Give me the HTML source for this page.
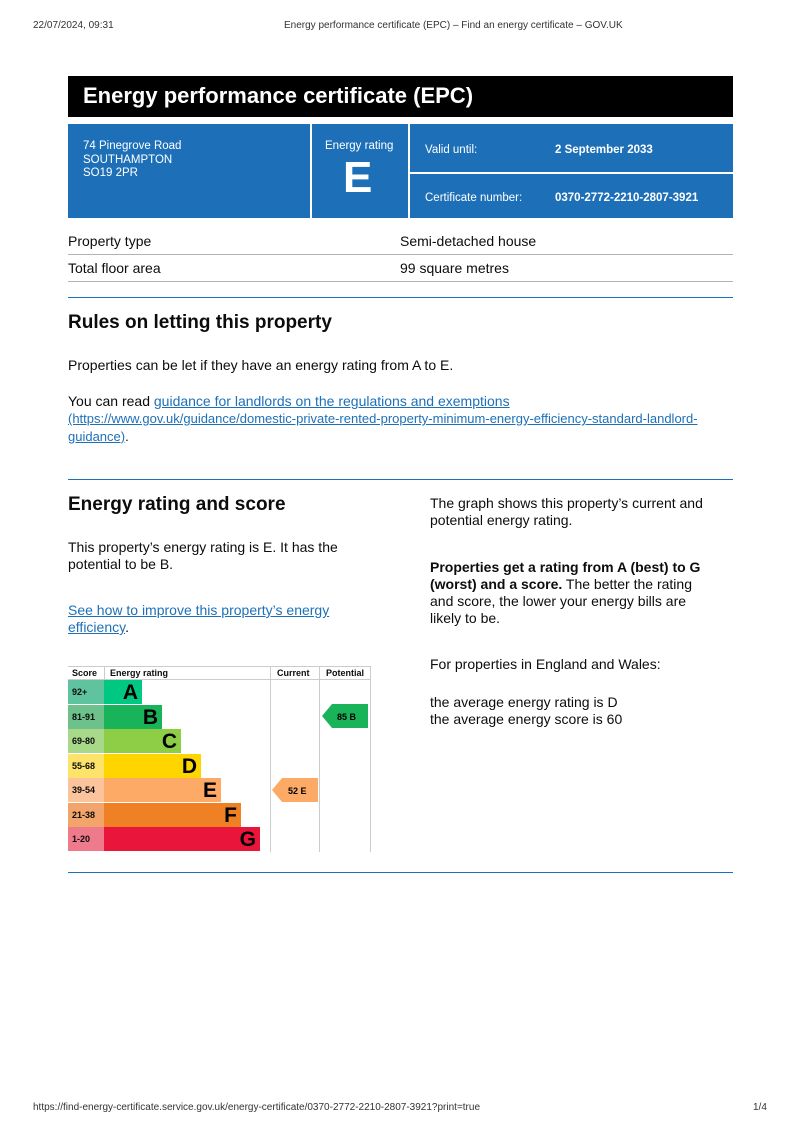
<!DOCTYPE html>
<html><head><meta charset="utf-8"><style>
body{margin:0;width:800px;height:1133px;background:#fff;position:relative;font-family:"Liberation Sans",Arial,sans-serif;color:#0b0c0c;overflow:hidden}
.a{position:absolute;white-space:nowrap}
.hr{position:absolute;left:68px;width:665px;height:1px;background:#1d70b8}
.g{position:absolute;left:68px;width:665px;height:1px;background:#b1b4b6}
a{color:#1d70b8;text-decoration:underline}
.bl{position:absolute;background:#1d70b8;color:#fff}
.r{position:absolute;left:68px;height:24px;font-weight:bold;font-size:9px}
.sc{position:absolute;left:0;width:36px;height:24px;line-height:24px;padding-left:4px;box-sizing:border-box}
.bar{position:absolute;left:36px;height:24px;text-align:right;padding-right:4px;box-sizing:border-box;font-size:21px;line-height:26px;color:#000}
</style></head><body>
<div class="a" style="left:33px;top:20px;font-size:10px;color:#333">22/07/2024, 09:31</div>
<div class="a" style="left:284px;top:20px;font-size:10px;color:#333">Energy performance certificate (EPC) – Find an energy certificate – GOV.UK</div>

<div class="a" style="left:68px;top:76px;width:665px;height:41px;background:#000"></div>
<div class="a" style="left:83px;top:83px;font-size:22px;font-weight:bold;color:#fff">Energy performance certificate (EPC)</div>

<div class="bl" style="left:68px;top:124px;width:242px;height:94px"></div>
<div class="bl" style="left:312px;top:124px;width:96px;height:94px"></div>
<div class="bl" style="left:410px;top:124px;width:323px;height:48px"></div>
<div class="bl" style="left:410px;top:174px;width:323px;height:44px"></div>
<div class="a" style="left:83px;top:140px;font-size:11.5px;color:#fff;line-height:13.5px">74 Pinegrove Road<br>SOUTHAMPTON<br>SO19 2PR</div>
<div class="a" style="left:325px;top:140px;font-size:11.5px;color:#fff">Energy rating</div>
<div class="a" style="left:343px;top:153px;font-size:44px;font-weight:bold;color:#fff">E</div>
<div class="a" style="left:425px;top:144px;font-size:11.5px;color:#fff">Valid until:</div>
<div class="a" style="left:555px;top:144px;font-size:11.5px;font-weight:bold;color:#fff">2 September 2033</div>
<div class="a" style="left:425px;top:192px;font-size:11.5px;color:#fff">Certificate number:</div>
<div class="a" style="left:555px;top:192px;font-size:11.5px;font-weight:bold;color:#fff">0370-2772-2210-2807-3921</div>

<div class="a" style="left:68px;top:233px;font-size:14px">Property type</div>
<div class="a" style="left:400px;top:233px;font-size:14px">Semi-detached house</div>
<div class="g" style="top:254px"></div>
<div class="a" style="left:68px;top:260px;font-size:14px">Total floor area</div>
<div class="a" style="left:400px;top:260px;font-size:14px">99 square metres</div>
<div class="g" style="top:281px"></div>
<div class="hr" style="top:297px"></div>

<div class="a" style="left:68px;top:312px;font-size:19px;font-weight:bold">Rules on letting this property</div>
<div class="a" style="left:68px;top:357px;font-size:14px">Properties can be let if they have an energy rating from A to E.</div>
<div class="a" style="left:68px;top:393px;font-size:14px">You can read <a>guidance for landlords on the regulations and exemptions</a></div>
<div class="a" style="left:68px;top:410px;font-size:13px;line-height:17.5px"><a>(https://www.gov.uk/guidance/domestic-private-rented-property-minimum-energy-efficiency-standard-landlord-<br>guidance)</a>.</div>
<div class="hr" style="top:479px"></div>

<div class="a" style="left:68px;top:494px;font-size:19px;font-weight:bold">Energy rating and score</div>
<div class="a" style="left:68px;top:539px;font-size:14px;line-height:17px">This property’s energy rating is E. It has the<br>potential to be B.</div>
<div class="a" style="left:68px;top:602px;font-size:14px;line-height:17px"><a>See how to improve this property’s energy<br>efficiency</a>.</div>

<div class="a" style="left:430px;top:495px;font-size:14px;line-height:17px">The graph shows this property’s current and<br>potential energy rating.</div>
<div class="a" style="left:430px;top:559px;font-size:14px;line-height:17px"><b>Properties get a rating from A (best) to G<br>(worst) and a score.</b> The better the rating<br>and score, the lower your energy bills are<br>likely to be.</div>
<div class="a" style="left:430px;top:656px;font-size:14px">For properties in England and Wales:</div>
<div class="a" style="left:430px;top:694px;font-size:14px;line-height:17px">the average energy rating is D<br>the average energy score is 60</div>

<!-- chart -->
<div class="a" style="left:68px;top:666px;width:302px;height:1px;background:#ccc"></div>
<div class="a" style="left:68px;top:679px;width:302px;height:1px;background:#ccc"></div>
<div class="a" style="left:104px;top:666px;width:1px;height:14px;background:#ccc"></div>
<div class="a" style="left:270px;top:666px;width:1px;height:186px;background:#ccc"></div>
<div class="a" style="left:319px;top:666px;width:1px;height:186px;background:#ccc"></div>
<div class="a" style="left:370px;top:666px;width:1px;height:186px;background:#ccc"></div>
<div class="a" style="left:72px;top:668px;font-size:9px;font-weight:bold">Score</div>
<div class="a" style="left:110px;top:668px;font-size:9px;font-weight:bold">Energy rating</div>
<div class="a" style="left:277px;top:668px;font-size:9px;font-weight:bold">Current</div>
<div class="a" style="left:326px;top:668px;font-size:9px;font-weight:bold">Potential</div>

<div class="r" style="top:680px"><div class="sc" style="background:#5fc3a0">92+</div><div class="bar" style="width:38px;background:#00c781">A</div></div>
<div class="r" style="top:704.5px"><div class="sc" style="background:#6cc28a">81-91</div><div class="bar" style="width:58px;background:#19b459">B</div></div>
<div class="r" style="top:729px"><div class="sc" style="background:#a8d98a">69-80</div><div class="bar" style="width:77px;background:#8dce46">C</div></div>
<div class="r" style="top:753.5px"><div class="sc" style="background:#fde36a">55-68</div><div class="bar" style="width:97px;background:#ffd500">D</div></div>
<div class="r" style="top:778px"><div class="sc" style="background:#fbc49c">39-54</div><div class="bar" style="width:117px;background:#fcaa65">E</div></div>
<div class="r" style="top:802.5px"><div class="sc" style="background:#f3a46a">21-38</div><div class="bar" style="width:137px;background:#ef8023">F</div></div>
<div class="r" style="top:827px"><div class="sc" style="background:#ee7a8c">1-20</div><div class="bar" style="width:156px;background:#e9153b">G</div></div>

<svg class="a" style="left:272px;top:778px" width="46" height="24"><polygon points="0,12 10,0 46,0 46,24 10,24" fill="#fcaa65"/><text x="16" y="16" font-size="9" font-weight="bold" font-family="Liberation Sans">52  E</text></svg>
<svg class="a" style="left:322px;top:704px" width="46" height="24"><polygon points="0,12 10,0 46,0 46,24 10,24" fill="#19b459"/><text x="15" y="16" font-size="9" font-weight="bold" font-family="Liberation Sans">85  B</text></svg>

<div class="hr" style="top:872px"></div>

<div class="a" style="left:33px;top:1102px;font-size:10px;color:#333">https://find-energy-certificate.service.gov.uk/energy-certificate/0370-2772-2210-2807-3921?print=true</div>
<div class="a" style="left:753px;top:1102px;font-size:10px;color:#333">1/4</div>
</body></html>
